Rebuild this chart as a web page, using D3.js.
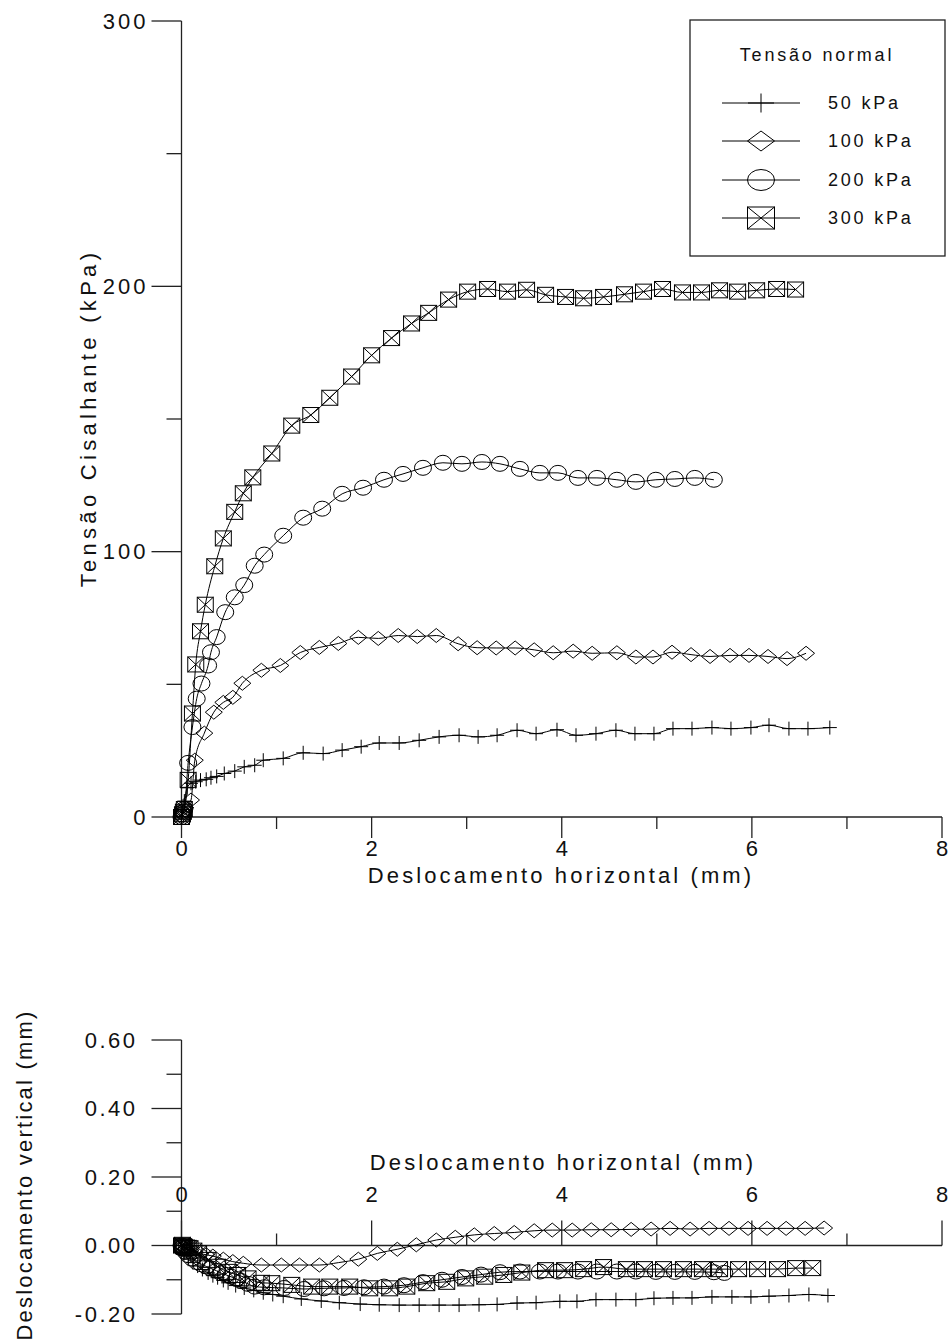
<!DOCTYPE html>
<html>
<head>
<meta charset="utf-8">
<script src="https://cdn.jsdelivr.net/npm/d3@7"></script>
<style>
  html, body { margin: 0; padding: 0; background: #fff; }
  svg { display: block; font-family: "Liberation Sans", Arial, sans-serif; }
</style>
</head>
<body>
<svg id="chart" width="952" height="1342"></svg>
<script>
// ---------- DATA ----------
const seriesNames = ["50 kPa", "100 kPa", "200 kPa", "300 kPa"];
const legendTitle = "Tensão normal";

// Shear stress (kPa) vs horizontal displacement (mm)
const shear50X  = [0, 0.01, 0.03, 0.06, 0.1, 0.15, 0.2, 0.26, 0.31, 0.37, 0.45, 0.56, 0.66, 0.77, 0.86, 1.07, 1.28, 1.49, 1.69, 1.89, 2.08, 2.29, 2.50, 2.71, 2.92, 3.12, 3.32, 3.53, 3.73, 3.95, 4.15, 4.36, 4.57, 4.77, 4.97, 5.17, 5.37, 5.58, 5.78, 5.99, 6.18, 6.39, 6.59, 6.82];
const shear50Y  = [0, 2, 6, 11, 12.7, 13.3, 13.9, 14.2, 14.8, 15.3, 16.4, 17.3, 18.9, 19.5, 21.4, 22.1, 24.2, 23.9, 25.2, 26.5, 27.9, 27.9, 28.9, 30.2, 30.8, 30.2, 30.8, 32.7, 31.4, 32.9, 30.8, 31.4, 32.7, 31.4, 31.4, 33.3, 33.3, 33.7, 33.3, 33.7, 34.6, 33.3, 33.3, 33.7];

const shear100X = [0, 0.01, 0.02, 0.04, 0.1, 0.14, 0.24, 0.34, 0.44, 0.54, 0.64, 0.84, 1.04, 1.25, 1.45, 1.65, 1.86, 2.07, 2.28, 2.48, 2.68, 2.91, 3.11, 3.31, 3.51, 3.71, 3.91, 4.12, 4.32, 4.58, 4.78, 4.96, 5.16, 5.36, 5.56, 5.77, 5.97, 6.17, 6.37, 6.57];
const shear100Y = [0, 1, 2, 3.5, 6.4, 21.4, 31.6, 39.5, 43.2, 45.1, 50.4, 55.3, 57.1, 62, 63.9, 65.4, 67.7, 67.3, 68.4, 68, 68.4, 65.3, 63.8, 63.7, 63.7, 63.0, 61.9, 62.5, 61.7, 61.9, 60.3, 60.3, 62.1, 61.2, 60.5, 60.9, 60.9, 60.5, 59.7, 61.7];

const shear200X = [0, 0.01, 0.02, 0.03, 0.07, 0.115, 0.16, 0.21, 0.28, 0.31, 0.37, 0.46, 0.56, 0.66, 0.77, 0.87, 1.07, 1.28, 1.48, 1.69, 1.91, 2.13, 2.33, 2.54, 2.75, 2.95, 3.16, 3.35, 3.56, 3.77, 3.96, 4.17, 4.37, 4.58, 4.78, 4.99, 5.19, 5.40, 5.60];
const shear200Y = [0, 1, 2, 3, 20.4, 33.9, 44.6, 50.3, 57.1, 62.1, 67.8, 77.2, 82.8, 87.4, 94.7, 98.9, 106, 112.8, 116.2, 121.8, 124.1, 127.1, 129.3, 131.6, 133.5, 133.1, 133.8, 133.1, 131.2, 129.7, 129.7, 127.8, 127.8, 127.1, 126.3, 127.1, 127.4, 127.8, 127.1];

const shear300X = [0, 0.01, 0.02, 0.03, 0.07, 0.115, 0.15, 0.2, 0.25, 0.35, 0.44, 0.56, 0.65, 0.75, 0.95, 1.16, 1.36, 1.56, 1.79, 2.0, 2.21, 2.42, 2.6, 2.81, 3.01, 3.22, 3.43, 3.63, 3.83, 4.04, 4.23, 4.44, 4.66, 4.86, 5.06, 5.27, 5.47, 5.66, 5.85, 6.05, 6.26, 6.46];
const shear300Y = [0, 1, 2, 3, 14, 39, 57.5, 70, 80, 94.5, 105, 115, 122, 128, 137, 147.5, 151.5, 158, 166, 174, 180.5, 186, 190, 195, 198, 199, 198, 198.7, 196.8, 196, 195.5, 196, 197, 198, 199, 197.7, 197.7, 198.5, 198, 198.5, 199, 198.8];

// Vertical displacement (mm) vs horizontal displacement (mm)
const vert50X  = [0, 0.03, 0.07, 0.12, 0.17, 0.22, 0.28, 0.33, 0.38, 0.44, 0.49, 0.57, 0.66, 0.76, 0.86, 0.96, 1.07, 1.26, 1.47, 1.66, 1.88, 2.08, 2.29, 2.5, 2.71, 2.92, 3.13, 3.32, 3.53, 3.73, 3.98, 4.16, 4.36, 4.57, 4.78, 4.97, 5.17, 5.37, 5.58, 5.79, 5.99, 6.18, 6.39, 6.6, 6.8];
const vert50Y  = [0, -0.02, -0.04, -0.05, -0.06, -0.07, -0.08, -0.088, -0.094, -0.102, -0.109, -0.117, -0.124, -0.131, -0.138, -0.143, -0.148, -0.156, -0.162, -0.167, -0.171, -0.173, -0.174, -0.174, -0.174, -0.174, -0.173, -0.172, -0.168, -0.167, -0.163, -0.163, -0.158, -0.158, -0.158, -0.154, -0.153, -0.153, -0.15, -0.15, -0.15, -0.148, -0.146, -0.143, -0.146];

const vert100X = [0, 0.02, 0.05, 0.09, 0.14, 0.2, 0.26, 0.33, 0.44, 0.54, 0.65, 0.84, 1.05, 1.24, 1.45, 1.65, 1.86, 2.06, 2.27, 2.47, 2.68, 2.88, 3.08, 3.29, 3.5, 3.71, 3.9, 4.11, 4.31, 4.52, 4.73, 4.94, 5.14, 5.35, 5.55, 5.76, 5.96, 6.16, 6.36, 6.56, 6.76];
const vert100Y = [0, -0.005, -0.01, -0.015, -0.02, -0.024, -0.027, -0.031, -0.04, -0.047, -0.052, -0.057, -0.057, -0.057, -0.057, -0.05, -0.04, -0.023, -0.011, 0.002, 0.016, 0.024, 0.031, 0.035, 0.038, 0.043, 0.045, 0.045, 0.046, 0.046, 0.047, 0.048, 0.05, 0.048, 0.05, 0.05, 0.05, 0.05, 0.05, 0.05, 0.051];

const vert200X = [0, 0.01, 0.02, 0.04, 0.07, 0.11, 0.16, 0.21, 0.26, 0.31, 0.37, 0.42, 0.47, 0.52, 0.58, 0.63, 0.7, 0.77, 0.87, 1.08, 1.29, 1.5, 1.71, 1.92, 2.13, 2.34, 2.54, 2.74, 2.95, 3.15, 3.35, 3.56, 3.77, 3.96, 4.17, 4.37, 4.58, 4.78, 4.99, 5.19, 5.4, 5.6, 5.71];
const vert200Y = [0, -0.005, -0.01, -0.018, -0.028, -0.038, -0.048, -0.055, -0.061, -0.067, -0.074, -0.081, -0.086, -0.091, -0.098, -0.104, -0.112, -0.12, -0.122, -0.124, -0.127, -0.125, -0.124, -0.122, -0.12, -0.116, -0.107, -0.1, -0.092, -0.085, -0.078, -0.076, -0.076, -0.076, -0.076, -0.076, -0.076, -0.076, -0.077, -0.077, -0.077, -0.078, -0.08];

const vert300X = [0, 0.01, 0.02, 0.03, 0.05, 0.07, 0.09, 0.13, 0.18, 0.28, 0.38, 0.49, 0.59, 0.7, 0.84, 0.95, 1.16, 1.37, 1.56, 1.77, 1.98, 2.19, 2.37, 2.58, 2.79, 2.99, 3.19, 3.39, 3.58, 3.83, 4.03, 4.23, 4.44, 4.68, 4.87, 5.07, 5.28, 5.48, 5.66, 5.86, 6.06, 6.27, 6.46, 6.64];
const vert300Y = [0, 0.002, -0.002, -0.004, -0.006, -0.007, -0.008, -0.015, -0.023, -0.042, -0.062, -0.077, -0.086, -0.096, -0.109, -0.11, -0.115, -0.12, -0.12, -0.12, -0.125, -0.125, -0.12, -0.11, -0.106, -0.096, -0.091, -0.086, -0.079, -0.072, -0.072, -0.069, -0.063, -0.069, -0.069, -0.069, -0.069, -0.069, -0.069, -0.069, -0.069, -0.069, -0.066, -0.066];

const xMajorTicks = [0, 2, 4, 6, 8];
const xMinorTicks = [1, 3, 5, 7];
const shearMajorTicks = [0, 100, 200, 300];
const shearMinorTicks = [50, 150, 250];
const vertMajorTicks = [-0.2, 0, 0.2, 0.4, 0.6];
const vertMinorTicks = [-0.1, 0.1, 0.3, 0.5];

const xTitle = "Deslocamento horizontal (mm)";
const shearTitle = "Tensão Cisalhante (kPa)";
const vertTitle = "Deslocamento vertical (mm)";

// ---------- BUILD ----------
const zip = (xs, ys) => xs.map((x, i) => ({x, y: ys[i]}));
const shearSeries = [zip(shear50X, shear50Y), zip(shear100X, shear100Y), zip(shear200X, shear200Y), zip(shear300X, shear300Y)];
const vertSeries  = [zip(vert50X, vert50Y), zip(vert100X, vert100Y), zip(vert200X, vert200Y), zip(vert300X, vert300Y)];
const markerTypes = ["cross", "diamond", "circle", "square"];

const svg = d3.select("#chart");
const INK = "#000";

const xScale = d3.scaleLinear().domain([0, 8]).range([181.5, 942]);
const yTop = d3.scaleLinear().domain([0, 300]).range([817, 21]);
const yBot = d3.scaleLinear().domain([-0.2, 0.6]).range([1314, 1040]);

const fmtV = d3.formatLocale({decimal: ".", thousands: ",", grouping: [3], currency: ["", ""], minus: "-"}).format(".2f");

function marker(g, type, sx, sy) {
  if (type === "cross") {
    g.append("path").attr("d", `M${-sx},0H${sx}M0,${-sy}V${sy}`);
  } else if (type === "diamond") {
    g.append("path").attr("d", `M0,${-sy}L${sx},0L0,${sy}L${-sx},0Z`);
  } else if (type === "circle") {
    g.append("ellipse").attr("rx", sx).attr("ry", sy);
  } else {
    g.append("rect").attr("x", -sx).attr("y", -sy).attr("width", 2 * sx).attr("height", 2 * sy);
    g.append("path").attr("d", `M${-sx},${-sy}L${sx},${sy}M${sx},${-sy}L${-sx},${sy}`);
  }
}
const markerSize = {cross: [7, 7], diamond: [8.5, 7], circle: [8.5, 7.5], square: [8, 7.5]};

function drawSeries(series, yScale) {
  const line = d3.line().x(d => xScale(d.x)).y(d => yScale(d.y)).curve(d3.curveMonotoneX);
  const g = svg.append("g");
  series.forEach(data => {
    g.append("path").datum(data).attr("d", line)
      .attr("fill", "none").attr("stroke", INK).attr("stroke-width", 1);
  });
  series.forEach((data, i) => {
    const t = markerTypes[i];
    data.forEach(d => {
      const m = g.append("g").attr("transform", `translate(${xScale(d.x)},${yScale(d.y)})`)
        .attr("fill", "none").attr("stroke", INK).attr("stroke-width", 1);
      marker(m, t, markerSize[t][0], markerSize[t][1]);
    });
  });
}

const axisStyle = sel => sel.attr("stroke", "#222").attr("stroke-width", 1.3).attr("fill", "none");
const labelFont = (sel, ls = 3) => sel.attr("font-size", 22).attr("letter-spacing", ls).attr("fill", "#111");

// ----- Top chart axes -----
const topG = svg.append("g");
topG.append("line").attr("x1", xScale(0)).attr("x2", xScale(0)).attr("y1", yTop(300)).attr("y2", yTop(0)).call(axisStyle);
topG.append("line").attr("x1", xScale(0)).attr("x2", xScale(8)).attr("y1", yTop(0)).attr("y2", yTop(0)).call(axisStyle);
shearMajorTicks.forEach(v => {
  topG.append("line").attr("x1", xScale(0) - 30).attr("x2", xScale(0)).attr("y1", yTop(v)).attr("y2", yTop(v)).call(axisStyle);
  topG.append("text").attr("x", xScale(0) - 33).attr("y", yTop(v)).attr("dy", "0.35em")
    .attr("text-anchor", "end").text(v).call(labelFont, 3);
});
shearMinorTicks.forEach(v => {
  topG.append("line").attr("x1", xScale(0) - 15).attr("x2", xScale(0)).attr("y1", yTop(v)).attr("y2", yTop(v)).call(axisStyle);
});
xMajorTicks.forEach(v => {
  topG.append("line").attr("x1", xScale(v)).attr("x2", xScale(v)).attr("y1", yTop(0)).attr("y2", yTop(0) + 21).call(axisStyle);
  topG.append("text").attr("x", xScale(v) + 1.5).attr("y", yTop(0) + 31).attr("dy", "0.35em")
    .attr("text-anchor", "middle").text(v).call(labelFont, 3);
});
xMinorTicks.forEach(v => {
  topG.append("line").attr("x1", xScale(v)).attr("x2", xScale(v)).attr("y1", yTop(0)).attr("y2", yTop(0) + 12).call(axisStyle);
});
topG.append("text").attr("x", 561).attr("y", 875).attr("dy", "0.35em").attr("text-anchor", "middle")
  .text(xTitle).call(labelFont, 3.1);
topG.append("text").attr("transform", `translate(88,418) rotate(-90)`).attr("dy", "0.35em")
  .attr("text-anchor", "middle").text(shearTitle).call(labelFont, 4.3);

// ----- Bottom chart axes -----
const botG = svg.append("g");
botG.append("line").attr("x1", xScale(0)).attr("x2", xScale(0)).attr("y1", yBot(0.6)).attr("y2", yBot(-0.2)).call(axisStyle);
botG.append("line").attr("x1", xScale(0)).attr("x2", xScale(8)).attr("y1", yBot(0)).attr("y2", yBot(0)).call(axisStyle);
vertMajorTicks.forEach(v => {
  botG.append("line").attr("x1", xScale(0) - 30).attr("x2", xScale(0)).attr("y1", yBot(v)).attr("y2", yBot(v)).call(axisStyle);
  botG.append("text").attr("x", xScale(0) - 44).attr("y", yBot(v)).attr("dy", "0.35em")
    .attr("text-anchor", "end").text(fmtV(v)).call(labelFont, 2.5);
});
vertMinorTicks.forEach(v => {
  botG.append("line").attr("x1", xScale(0) - 15).attr("x2", xScale(0)).attr("y1", yBot(v)).attr("y2", yBot(v)).call(axisStyle);
});
xMajorTicks.forEach(v => {
  botG.append("line").attr("x1", xScale(v)).attr("x2", xScale(v)).attr("y1", yBot(0)).attr("y2", yBot(0) - 25).call(axisStyle);
  botG.append("text").attr("x", xScale(v) + 1.5).attr("y", yBot(0) - 51).attr("dy", "0.35em")
    .attr("text-anchor", "middle").text(v).call(labelFont, 3);
});
xMinorTicks.forEach(v => {
  botG.append("line").attr("x1", xScale(v)).attr("x2", xScale(v)).attr("y1", yBot(0)).attr("y2", yBot(0) - 12).call(axisStyle);
});
botG.append("text").attr("x", 563).attr("y", 1162).attr("dy", "0.35em").attr("text-anchor", "middle")
  .text(xTitle).call(labelFont, 3.1);
botG.append("text").attr("transform", `translate(24,1175) rotate(-90)`).attr("dy", "0.35em")
  .attr("text-anchor", "middle").text(vertTitle).call(labelFont, 2.2);

// ----- Series -----
drawSeries(shearSeries, yTop);
drawSeries(vertSeries, yBot);

// ----- Legend -----
const lg = svg.append("g");
lg.append("rect").attr("x", 690).attr("y", 20).attr("width", 255).attr("height", 236)
  .attr("fill", "#fff").attr("stroke", "#222").attr("stroke-width", 1.3);
lg.append("text").attr("x", 817).attr("y", 55).attr("dy", "0.35em").attr("text-anchor", "middle")
  .attr("font-size", 18).attr("letter-spacing", 2.8).attr("fill", "#111").text(legendTitle);
const legendRows = [103, 141, 180, 218];
const legendMarkerSize = {cross: [13, 9.5], diamond: [13.5, 10], circle: [13.5, 10.5], square: [13.5, 11]};
seriesNames.forEach((name, i) => {
  const yy = legendRows[i];
  lg.append("line").attr("x1", 722).attr("x2", 800).attr("y1", yy).attr("y2", yy).attr("stroke", INK).attr("stroke-width", 1);
  const t = markerTypes[i];
  const m = lg.append("g").attr("transform", `translate(761,${yy})`).attr("fill", "none").attr("stroke", INK).attr("stroke-width", 1);
  marker(m, t, legendMarkerSize[t][0], legendMarkerSize[t][1]);
  lg.append("text").attr("x", 828).attr("y", yy).attr("dy", "0.35em")
    .attr("font-size", 18).attr("letter-spacing", 2.8).attr("fill", "#111").text(name);
});
</script>
</body>
</html>
